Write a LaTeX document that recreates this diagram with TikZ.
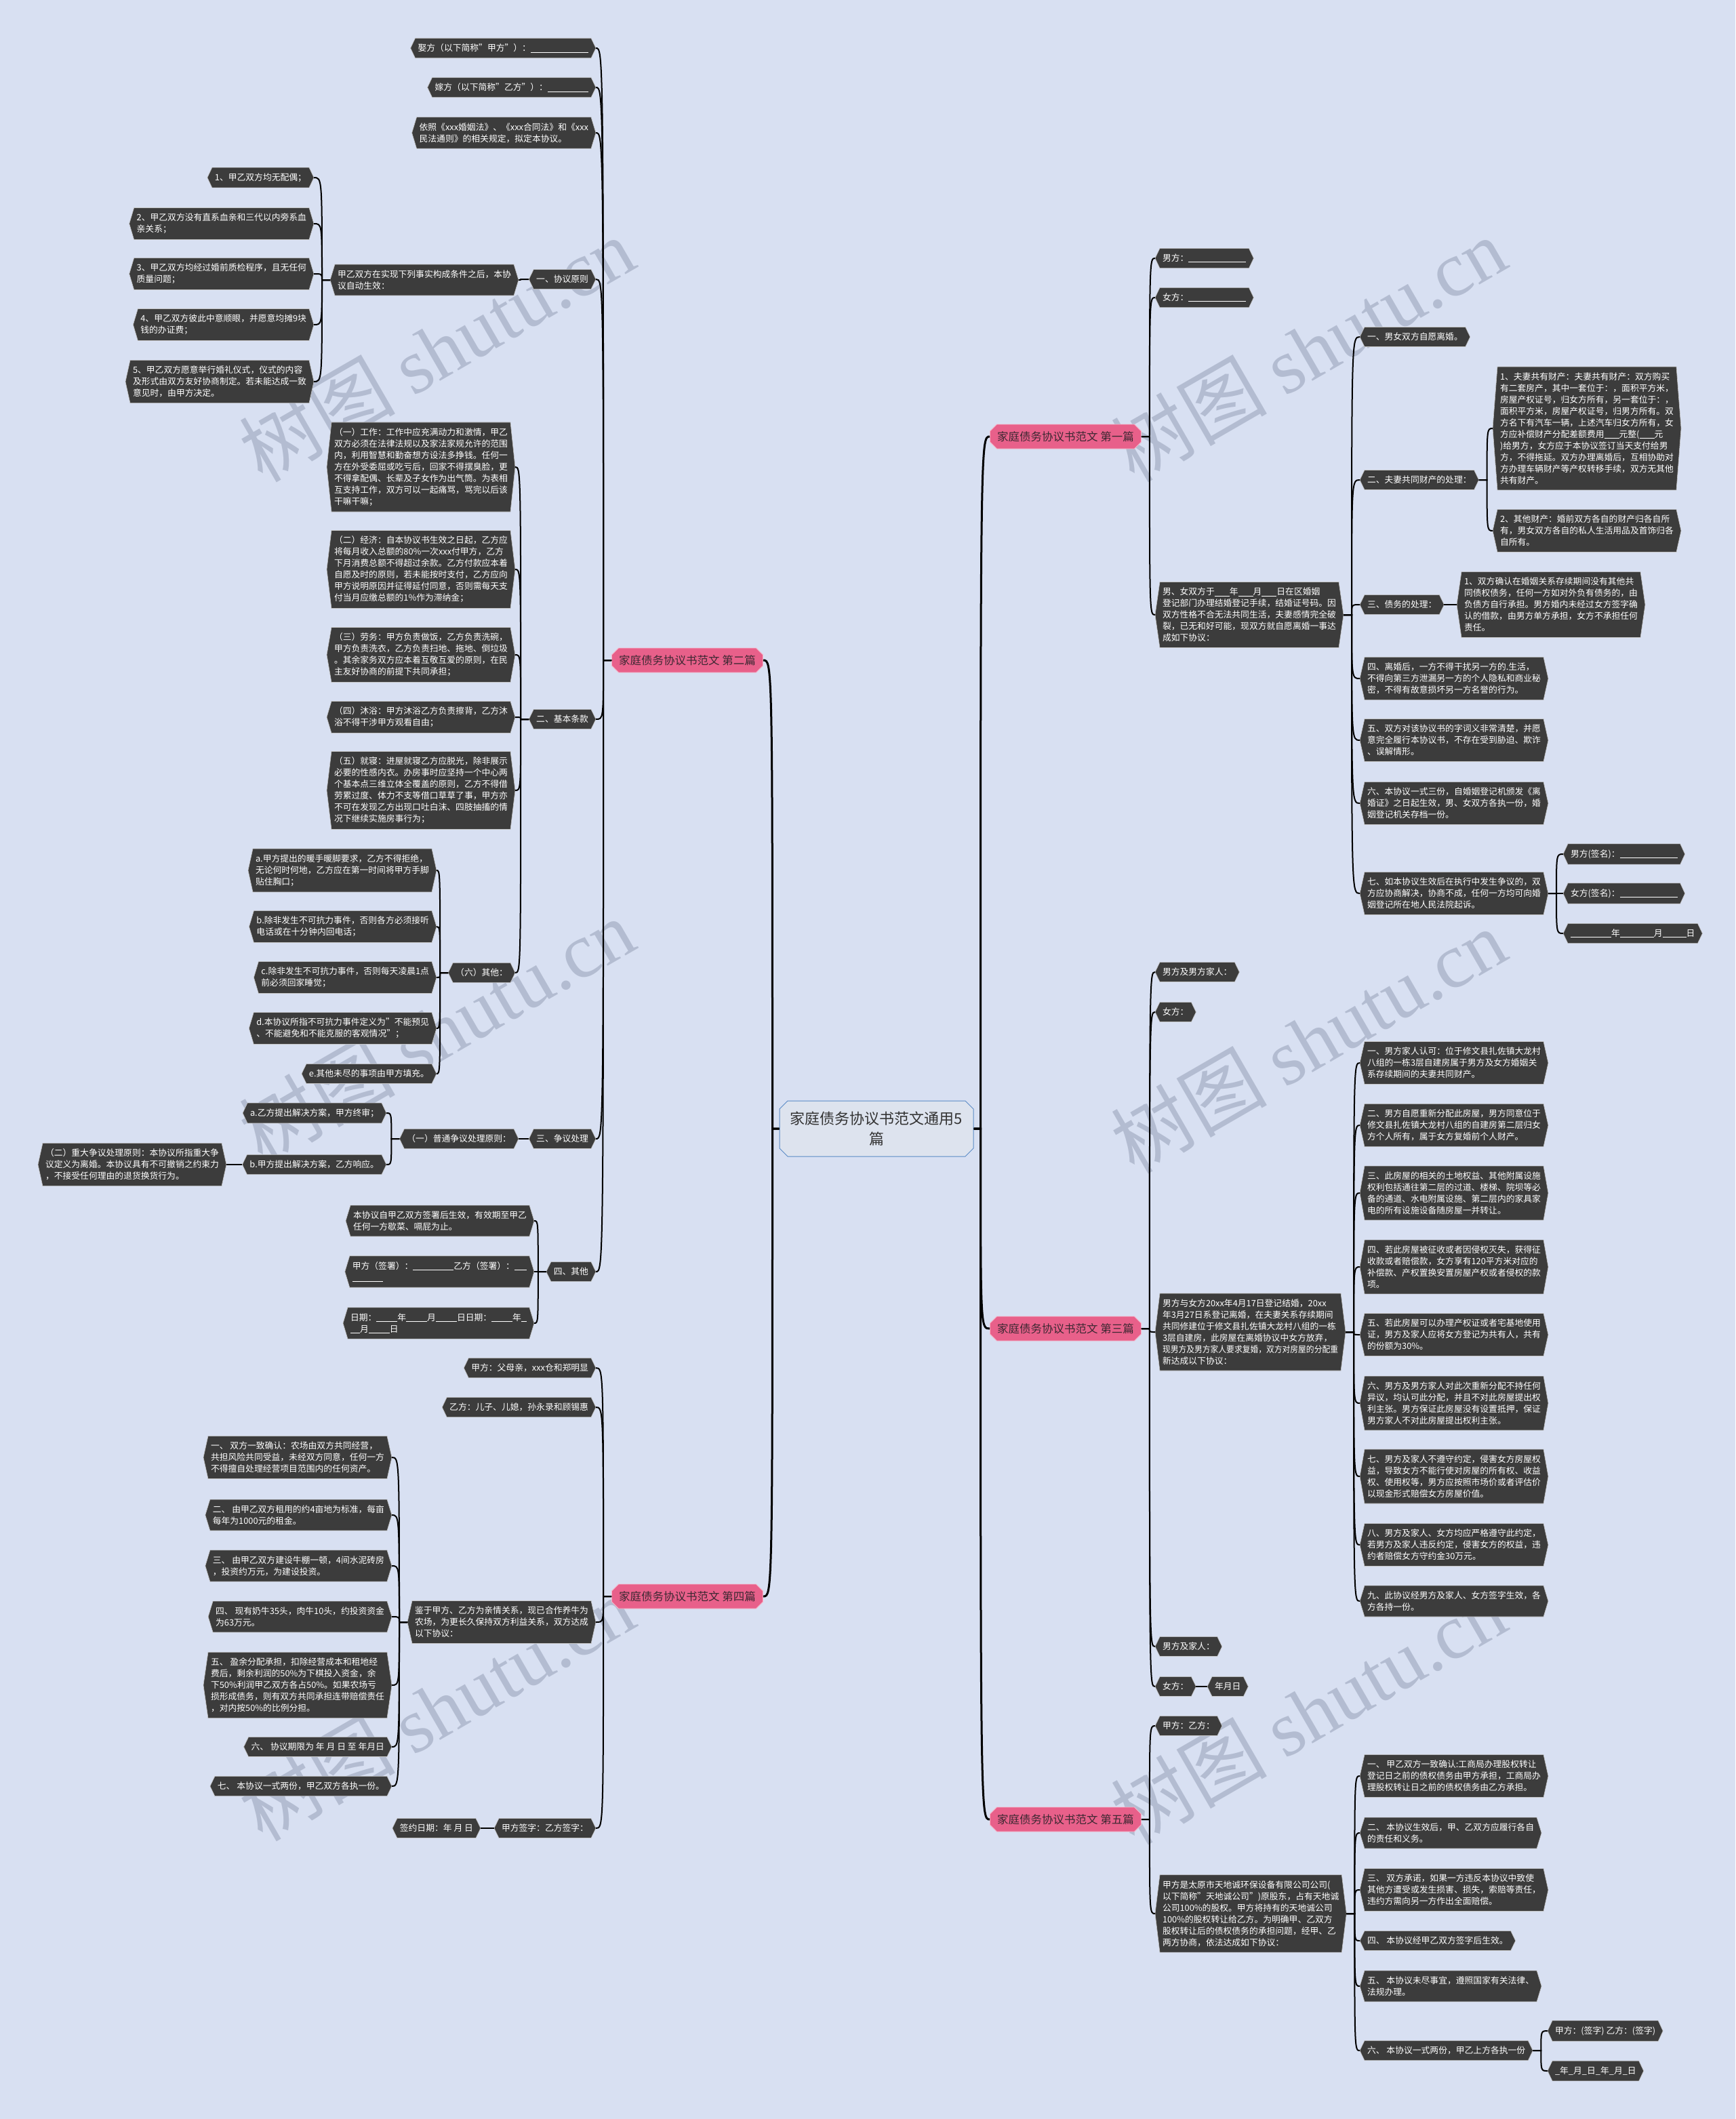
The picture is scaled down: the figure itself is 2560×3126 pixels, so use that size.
\documentclass[tikz,border=0pt]{standalone}
\usepackage{fontspec}
\setmainfont{Noto Sans CJK SC}
\newfontfamily\wmfont{Liberation Serif}
\usetikzlibrary{shapes.misc}
\pgfdeclarelayer{bg}
\pgfsetlayers{bg,main}
\definecolor{pagebg}{RGB}{216,224,242}
\definecolor{leafc}{RGB}{60,60,60}
\definecolor{pinkc}{RGB}{232,96,138}
\definecolor{pinktext}{RGB}{60,40,50}
\definecolor{rootc}{RGB}{221,227,238}
\definecolor{rootline}{RGB}{90,138,198}
\definecolor{wmc}{RGB}{150,160,182}
\newcommand{\fillin}[1]{\rule[-1.5pt]{#1pt}{0.7pt}}
\tikzset{
  leaf/.style={font=\fontsize{12.8}{17}\selectfont, text=white, align=left,
    inner xsep=4pt, inner ysep=8.5pt, outer xsep=7pt, outer ysep=0pt,
    append after command={\pgfextra{\begin{pgfonlayer}{bg}
      \path[fill=leafc, draw=white!70!leafc, line width=0.6pt]
        ([xshift=7pt]\tikzlastnode.north west) -- ([xshift=-7pt]\tikzlastnode.north east)
        -- (\tikzlastnode.east) -- ([xshift=-7pt]\tikzlastnode.south east)
        -- ([xshift=7pt]\tikzlastnode.south west) -- (\tikzlastnode.west) -- cycle;
      \end{pgfonlayer}}}},
  leafL/.style={leaf, anchor=east},
  leafR/.style={leaf, anchor=west},
  pian/.style={chamfered rectangle, chamfered rectangle xsep=5pt, chamfered rectangle ysep=5pt,
    fill=pinkc, draw=white!55!pinkc, line width=0.8pt, text=pinktext,
    font=\fontsize{16.5}{20}\selectfont, minimum width=223pt, minimum height=36pt, inner sep=2pt},
  root/.style={chamfered rectangle, chamfered rectangle xsep=6pt, chamfered rectangle ysep=6pt,
    fill=rootc, draw=rootline, line width=1pt, text=black!80, align=center,
    font=\fontsize{22}{30}\selectfont, minimum width=286pt, minimum height=82pt},
  linkR/.style={draw=black, line width=2pt,
    to path={-- ++(12,0) coordinate (k) .. controls (k |- \tikztotarget) .. (\tikztotarget)}},
  linkL/.style={draw=black, line width=2pt,
    to path={-- ++(-12,0) coordinate (k) .. controls (k |- \tikztotarget) .. (\tikztotarget)}},
  trunkR/.style={draw=black, line width=3pt,
    to path={-- ++(10,0) coordinate (k) .. controls (k |- \tikztotarget) .. (\tikztotarget)}},
  trunkL/.style={draw=black, line width=3pt,
    to path={-- ++(-10,0) coordinate (k) .. controls (k |- \tikztotarget) .. (\tikztotarget)}},
  wm/.style={text=wmc, opacity=0.55, rotate=30, font=\fontsize{115}{115}\selectfont}
}
\begin{document}
\begin{tikzpicture}[x=1pt, y=-1pt]
  \begin{pgfonlayer}{bg}
    \fill[pagebg] (0,0) rectangle (2560,3126);
    % filigrane
    \foreach \x/\y [count=\i] in {644/515, 644/1520, 644/2520, 1930/515, 1930/1535, 1930/2525}
      \node[wm] (wm\i) at (\x,\y) {树图 {\wmfont shutu.cn}};
  \end{pgfonlayer}
  \useasboundingbox (0,0) rectangle (2560,3126);

  % centre et les cinq modeles
  \node[root] (root) at (1293,1665) {家庭债务协议书范文通用5\\篇};
  \node[pian] (p1) at (1572,644) {家庭债务协议书范文 第一篇};
  \node[pian] (p2) at (1014,974) {家庭债务协议书范文 第二篇};
  \node[pian] (p3) at (1572,1960) {家庭债务协议书范文 第三篇};
  \node[pian] (p4) at (1014,2355) {家庭债务协议书范文 第四篇};
  \node[pian] (p5) at (1572,2684) {家庭债务协议书范文 第五篇};

  % second modele (gauche, haut)
  \node[leafL] (a1) at (879,71) {娶方（以下简称"甲方"）：\fillin{85}};
  \node[leafL] (a2) at (879,129) {嫁方（以下简称"乙方"）：\fillin{60}};
  \node[leafL] (a3) at (879,196) {依照《xxx婚姻法》、《xxx合同法》和《xxx\\民法通则》的相关规定，拟定本协议。};
  \node[leafL] (a4) at (879,412) {一、协议原则};
  \node[leafL] (a41) at (765,413) {甲乙双方在实现下列事实构成条件之后，本协\\议自动生效：};
  \node[leafL] (a411) at (463,262) {1、甲乙双方均无配偶；};
  \node[leafL] (a412) at (463,330) {2、甲乙双方没有直系血亲和三代以内旁系血\\亲关系；};
  \node[leafL] (a413) at (463,404) {3、甲乙双方均经过婚前质检程序，且无任何\\质量问题；};
  \node[leafL] (a414) at (463,479) {4、甲乙双方彼此中意顺眼，并愿意均摊9块\\钱的办证费；};
  \node[leafL] (a415) at (463,563) {5、甲乙双方愿意举行婚礼仪式，仪式的内容\\及形式由双方友好协商制定。若未能达成一致\\意见时，由甲方决定。};
  \node[leafL] (a5) at (879,1061) {二、基本条款};
  \node[leafL] (a51) at (760,689) {（一）工作：工作中应充满动力和激情，甲乙\\双方必须在法律法规以及家法家规允许的范围\\内，利用智慧和勤奋想方设法多挣钱。任何一\\方在外受委屈或吃亏后，回家不得摆臭脸，更\\不得拿配偶、长辈及子女作为出气筒。为表相\\互支持工作，双方可以一起痛骂，骂完以后该\\干嘛干嘛；};
  \node[leafL] (a52) at (760,840) {（二）经济：自本协议书生效之日起，乙方应\\将每月收入总额的80\%一次xxx付甲方，乙方\\下月消费总额不得超过余款。乙方付款应本着\\自愿及时的原则，若未能按时支付，乙方应向\\甲方说明原因并征得延付同意，否则需每天支\\付当月应缴总额的1\%作为滞纳金；};
  \node[leafL] (a53) at (760,966) {（三）劳务：甲方负责做饭，乙方负责洗碗，\\甲方负责洗衣，乙方负责扫地、拖地、倒垃圾\\。其余家务双方应本着互敬互爱的原则，在民\\主友好协商的前提下共同承担；};
  \node[leafL] (a54) at (760,1058) {（四）沐浴：甲方沐浴乙方负责擦背，乙方沐\\浴不得干涉甲方观看自由；};
  \node[leafL] (a55) at (760,1166) {（五）就寝：进屋就寝乙方应脱光，除非展示\\必要的性感内衣。办房事时应坚持一个中心两\\个基本点三维立体全覆盖的原则，乙方不得借\\劳累过度、体力不支等借口草草了事，甲方亦\\不可在发现乙方出现口吐白沫、四肢抽搐的情\\况下继续实施房事行为；};
  \node[leafL] (a56) at (760,1435) {（六）其他：};
  \node[leafL] (a561) at (644,1284) {a.甲方提出的暖手暖脚要求，乙方不得拒绝，\\无论何时何地，乙方应在第一时间将甲方手脚\\贴住胸口；};
  \node[leafL] (a562) at (644,1367) {b.除非发生不可抗力事件，否则各方必须接听\\电话或在十分钟内回电话；};
  \node[leafL] (a563) at (644,1442) {c.除非发生不可抗力事件，否则每天凌晨1点\\前必须回家睡觉；};
  \node[leafL] (a564) at (644,1517) {d.本协议所指不可抗力事件定义为"不能预见\\、不能避免和不能克服的客观情况"；};
  \node[leafL] (a565) at (644,1584) {e.其他未尽的事项由甲方填充。};
  \node[leafL] (a6) at (879,1680) {三、争议处理};
  \node[leafL] (a61) at (765,1680) {（一）普通争议处理原则：};
  \node[leafL] (a611) at (570,1642) {a.乙方提出解决方案，甲方终审；};
  \node[leafL] (a612) at (570,1718) {b.甲方提出解决方案，乙方响应。};
  \node[leafL] (a6121) at (334,1718) {（二）重大争议处理原则：本协议所指重大争\\议定义为离婚。本协议具有不可撤销之约束力\\，不接受任何理由的退货换货行为。};
  \node[leafL] (a7) at (879,1876) {四、其他};
  \node[leafL] (a71) at (788,1801) {本协议自甲乙双方签署后生效，有效期至甲乙\\任何一方歇菜、嗝屁为止。};
  \node[leafL] (a72) at (788,1876) {甲方（签署）：\fillin{60}乙方（签署）：\fillin{18}\\\fillin{45}};
  \node[leafL] (a73) at (788,1952) {日期：\fillin{31}年\fillin{31}月\fillin{31}日日期：\fillin{31}年\fillin{8}\\\fillin{14}月\fillin{31}日};

  % quatrieme modele (gauche, bas)
  \node[leafL] (b1) at (879,2018) {甲方：父母亲，xxx仓和郑明显};
  \node[leafL] (b2) at (879,2076) {乙方：儿子、儿媳，孙永录和顾锡惠};
  \node[leafL] (b3) at (879,2393) {鉴于甲方、乙方为亲情关系，现已合作养牛为\\农场，为更长久保持双方利益关系，双方达成\\以下协议：};
  \node[leafL] (b31) at (578,2150) {一、 双方一致确认：农场由双方共同经营，\\共担风险共同受益，未经双方同意，任何一方\\不得擅自处理经营项目范围内的任何资产。};
  \node[leafL] (b32) at (578,2235) {二、 由甲乙双方租用的约4亩地为标准，每亩\\每年为1000元的租金。};
  \node[leafL] (b33) at (578,2310) {三、 由甲乙双方建设牛棚一顿，4间水泥砖房\\，投资约万元，为建设投资。};
  \node[leafL] (b34) at (578,2385) {四、 现有奶牛35头，肉牛10头，约投资资金\\为63万元。};
  \node[leafL] (b35) at (578,2486) {五、 盈余分配承担，扣除经营成本和租地经\\费后，剩余利润的50\%为下棋投入资金，余\\下50\%利润甲乙双方各占50\%。如果农场亏\\损形成债务，则有双方共同承担连带赔偿责任\\，对内按50\%的比例分担。};
  \node[leafL] (b36) at (578,2577) {六、 协议期限为 年 月 日 至 年月日};
  \node[leafL] (b37) at (578,2635) {七、 本协议一式两份，甲乙双方各执一份。};
  \node[leafL] (b4) at (879,2697) {甲方签字：乙方签字：};
  \node[leafL] (b41) at (709,2697) {签约日期：年 月 日};

  % premier modele (droite, haut)
  \node[leafR] (c1) at (1704,381) {男方：\fillin{85}};
  \node[leafR] (c2) at (1704,439) {女方：\fillin{85}};
  \node[leafR] (c3) at (1704,907) {男、女双方于\fillin{22}年\fillin{22}月\fillin{22}日在区婚姻\\登记部门办理结婚登记手续，结婚证号码。因\\双方性格不合无法共同生活，夫妻感情完全破\\裂，已无和好可能，现双方就自愿离婚一事达\\成如下协议：};
  \node[leafR] (c31) at (2006,497) {一、男女双方自愿离婚。};
  \node[leafR] (c32) at (2006,708) {二、夫妻共同财产的处理：};
  \node[leafR] (c321) at (2202,632) {1、夫妻共有财产：夫妻共有财产：双方购买\\有二套房产，其中一套位于：，面积平方米，\\房屋产权证号，归女方所有，另一套位于：，\\面积平方米，房屋产权证号，归男方所有。双\\方名下有汽车一辆，上述汽车归女方所有，女\\方应补偿财产分配差额费用\fillin{22}元整(\fillin{22}元\\)给男方，女方应于本协议签订当天支付给男\\方，不得拖延。双方办理离婚后，互相协助对\\方办理车辆财产等产权转移手续，双方无其他\\共有财产。};
  \node[leafR] (c322) at (2202,783) {2、其他财产：婚前双方各自的财产归各自所\\有，男女双方各自的私人生活用品及首饰归各\\自所有。};
  \node[leafR] (c33) at (2006,892) {三、债务的处理：};
  \node[leafR] (c331) at (2149,892) {1、双方确认在婚姻关系存续期间没有其他共\\同债权债务，任何一方如对外负有债务的，由\\负债方自行承担。男方婚内未经过女方签字确\\认的借款，由男方单方承担，女方不承担任何\\责任。};
  \node[leafR] (c34) at (2006,1001) {四、离婚后，一方不得干扰另一方的.生活，\\不得向第三方泄漏另一方的个人隐私和商业秘\\密，不得有故意损坏另一方名誉的行为。};
  \node[leafR] (c35) at (2006,1092) {五、双方对该协议书的字词义非常清楚，并愿\\意完全履行本协议书，不存在受到胁迫、欺诈\\、误解情形。};
  \node[leafR] (c36) at (2006,1185) {六、本协议一式三份，自婚姻登记机颁发《离\\婚证》之日起生效，男、女双方各执一份，婚\\姻登记机关存档一份。};
  \node[leafR] (c37) at (2006,1318) {七、如本协议生效后在执行中发生争议的，双\\方应协商解决，协商不成，任何一方均可向婚\\姻登记所在地人民法院起诉。};
  \node[leafR] (c371) at (2306,1260) {男方(签名)：\fillin{85}};
  \node[leafR] (c372) at (2306,1318) {女方(签名)：\fillin{85}};
  \node[leafR] (c373) at (2306,1377) {\fillin{60}年\fillin{50}月\fillin{35}日};

  % troisieme modele (droite, milieu)
  \node[leafR] (d1) at (1704,1434) {男方及男方家人：};
  \node[leafR] (d2) at (1704,1493) {女方：};
  \node[leafR] (d3) at (1704,1965) {男方与女方20xx年4月17日登记结婚，20xx\\年3月27日系登记离婚，在夫妻关系存续期间\\共同修建位于修文县扎佐镇大龙村八组的一栋\\3层自建房，此房屋在离婚协议中女方放弃，\\\scalebox{0.92}[1]{现男方及男方家人要求复婚，双方对房屋的分配重}\\新达成以下协议：};
  \node[leafR] (d31) at (2006,1568) {一、男方家人认可：位于修文县扎佐镇大龙村\\八组的一栋3层自建房属于男方及女方婚姻关\\系存续期间的夫妻共同财产。};
  \node[leafR] (d32) at (2006,1660) {二、男方自愿重新分配此房屋，男方同意位于\\修文县扎佐镇大龙村八组的自建房第二层归女\\方个人所有，属于女方复婚前个人财产。};
  \node[leafR] (d33) at (2006,1760) {三、此房屋的相关的土地权益、其他附属设施\\权利包括通往第二层的过道、楼梯、院坝等必\\备的通道、水电附属设施、第二层内的家具家\\电的所有设施设备随房屋一并转让。};
  \node[leafR] (d34) at (2006,1869) {四、若此房屋被征收或者因侵权灭失，获得征\\收款或者赔偿款，女方享有120平方米对应的\\补偿款、产权置换安置房屋产权或者侵权的款\\项。};
  \node[leafR] (d35) at (2006,1969) {五、若此房屋可以办理产权证或者宅基地使用\\证，男方及家人应将女方登记为共有人，共有\\的份额为30\%。};
  \node[leafR] (d36) at (2006,2070) {六、男方及男方家人对此次重新分配不持任何\\异议，均认可此分配，并且不对此房屋提出权\\利主张。男方保证此房屋没有设置抵押，保证\\男方家人不对此房屋提出权利主张。};
  \node[leafR] (d37) at (2006,2178) {七、男方及家人不遵守约定，侵害女方房屋权\\益，导致女方不能行使对房屋的所有权、收益\\权、使用权等，男方应按照市场价或者评估价\\以现金形式赔偿女方房屋价值。};
  \node[leafR] (d38) at (2006,2279) {八、男方及家人、女方均应严格遵守此约定，\\若男方及家人违反约定，侵害女方的权益，违\\约者赔偿女方守约金30万元。};
  \node[leafR] (d39) at (2006,2362) {九、此协议经男方及家人、女方签字生效，各\\方各持一份。};
  \node[leafR] (d4) at (1704,2429) {男方及家人：};
  \node[leafR] (d5) at (1704,2488) {女方：};
  \node[leafR] (d51) at (1781,2488) {年月日};

  % cinquieme modele (droite, bas)
  \node[leafR] (e1) at (1704,2546) {甲方：乙方：};
  \node[leafR] (e2) at (1704,2823) {甲方是太原市天地诚环保设备有限公司公司(\\以下简称"天地诚公司")原股东，占有天地诚\\公司100\%的股权。甲方将持有的天地诚公司\\100\%的股权转让给乙方。为明确甲、乙双方\\股权转让后的债权债务的承担问题，经甲、乙\\两方协商，依法达成如下协议：};
  \node[leafR] (e21) at (2006,2620) {一、 甲乙双方一致确认:工商局办理股权转让\\登记日之前的债权债务由甲方承担，工商局办\\理股权转让日之前的债权债务由乙方承担。};
  \node[leafR] (e22) at (2006,2704) {二、 本协议生效后，甲、乙双方应履行各自\\的责任和义务。};
  \node[leafR] (e23) at (2006,2788) {三、 双方承诺，如果一方违反本协议中致使\\其他方遭受或发生损害、损失，索赔等责任，\\违约方需向另一方作出全面赔偿。};
  \node[leafR] (e24) at (2006,2863) {四、 本协议经甲乙双方签字后生效。};
  \node[leafR] (e25) at (2006,2930) {五、 本协议未尽事宜，遵照国家有关法律、\\法规办理。};
  \node[leafR] (e26) at (2006,3025) {六、 本协议一式两份，甲乙上方各执一份};
  \node[leafR] (e261) at (2283,2996) {甲方：(签字) 乙方：(签字)};
  \node[leafR] (e262) at (2283,3055) {\_年\_月\_日\_年\_月\_日};

  % liaisons
  \foreach \p in {p1,p3,p5} \draw[trunkR] (root.east) to (\p.west);
  \foreach \p in {p2,p4} \draw[trunkL] (root.west) to (\p.east);

  \foreach \c in {a1,a2,a3,a4,a5,a6,a7} \draw[linkL] (p2.west) to (\c.east);
  \draw[linkL] (a4.west) to (a41.east);
  \foreach \c in {a411,a412,a413,a414,a415} \draw[linkL] (a41.west) to (\c.east);
  \foreach \c in {a51,a52,a53,a54,a55,a56} \draw[linkL] (a5.west) to (\c.east);
  \foreach \c in {a561,a562,a563,a564,a565} \draw[linkL] (a56.west) to (\c.east);
  \draw[linkL] (a6.west) to (a61.east);
  \foreach \c in {a611,a612} \draw[linkL] (a61.west) to (\c.east);
  \draw[linkL] (a612.west) to (a6121.east);
  \foreach \c in {a71,a72,a73} \draw[linkL] (a7.west) to (\c.east);

  \foreach \c in {b1,b2,b3,b4} \draw[linkL] (p4.west) to (\c.east);
  \foreach \c in {b31,b32,b33,b34,b35,b36,b37} \draw[linkL] (b3.west) to (\c.east);
  \draw[linkL] (b4.west) to (b41.east);

  \foreach \c in {c1,c2,c3} \draw[linkR] (p1.east) to (\c.west);
  \foreach \c in {c31,c32,c33,c34,c35,c36,c37} \draw[linkR] (c3.east) to (\c.west);
  \foreach \c in {c321,c322} \draw[linkR] (c32.east) to (\c.west);
  \draw[linkR] (c33.east) to (c331.west);
  \foreach \c in {c371,c372,c373} \draw[linkR] (c37.east) to (\c.west);

  \foreach \c in {d1,d2,d3,d4,d5} \draw[linkR] (p3.east) to (\c.west);
  \foreach \c in {d31,d32,d33,d34,d35,d36,d37,d38,d39} \draw[linkR] (d3.east) to (\c.west);
  \draw[linkR] (d5.east) to (d51.west);

  \foreach \c in {e1,e2} \draw[linkR] (p5.east) to (\c.west);
  \foreach \c in {e21,e22,e23,e24,e25,e26} \draw[linkR] (e2.east) to (\c.west);
  \foreach \c in {e261,e262} \draw[linkR] (e26.east) to (\c.west);
\end{tikzpicture}
\end{document}
